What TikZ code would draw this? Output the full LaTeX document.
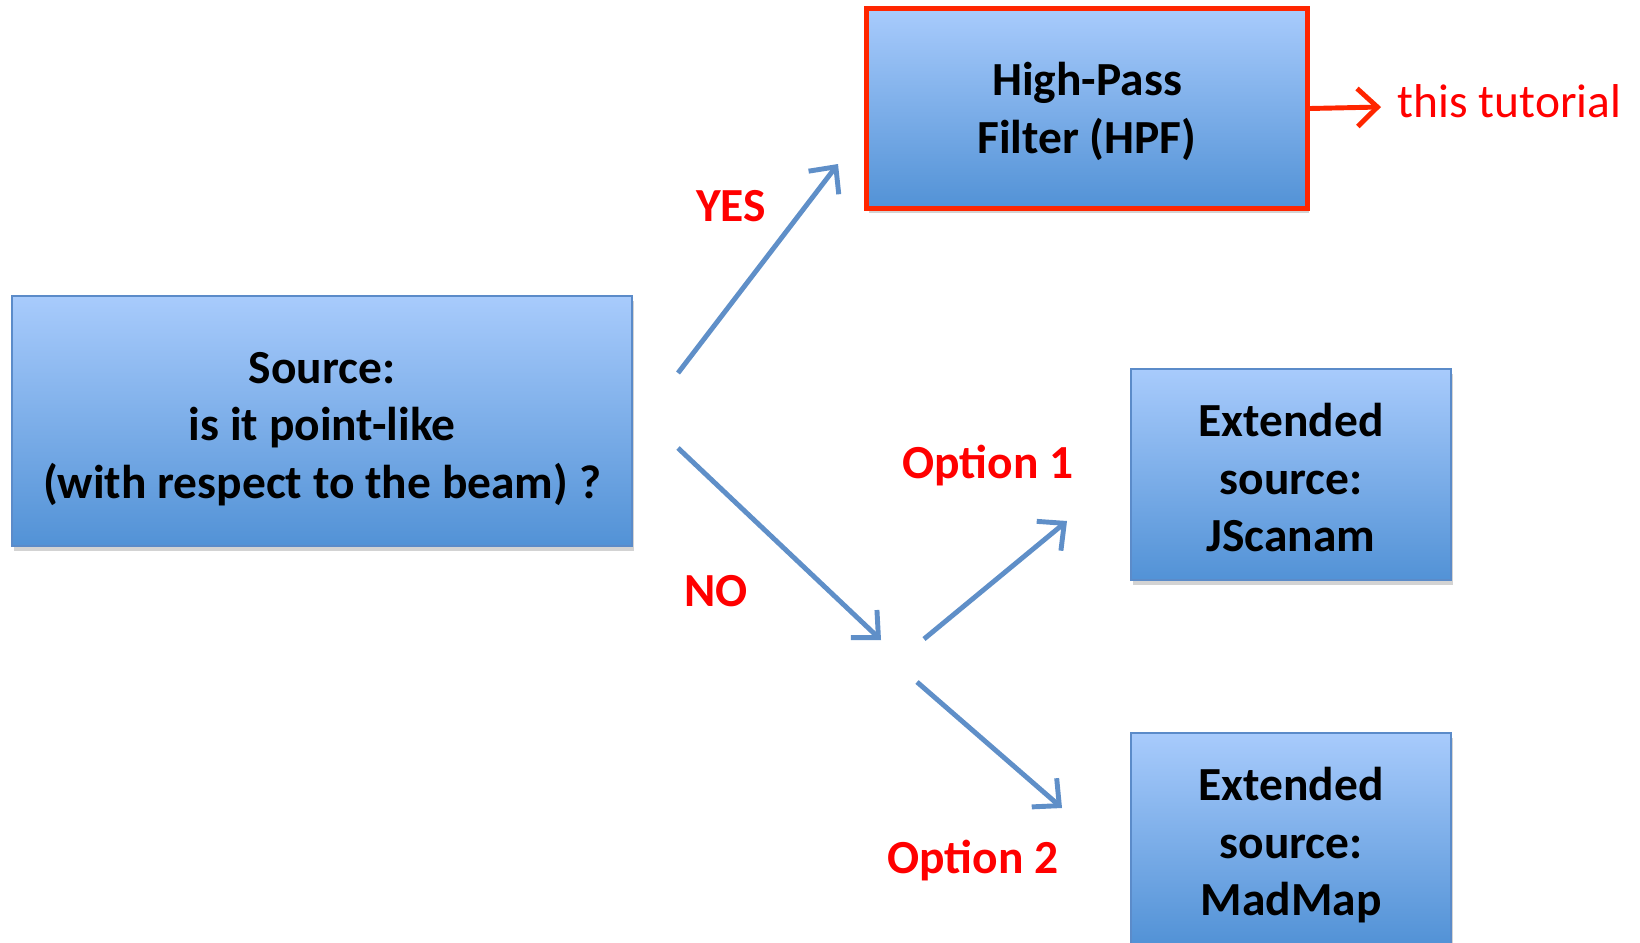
\documentclass[tikz,border=0pt]{standalone}
\usepackage{fontspec}
\setmainfont{Carlito}
\usetikzlibrary{positioning,arrows.meta,shadows}

\definecolor{boxtop}{RGB}{168,203,252}
\definecolor{boxbottom}{RGB}{82,146,214}
\definecolor{boxline}{RGB}{91,139,201}
\definecolor{arrowblue}{RGB}{95,143,200}
\definecolor{hpfred}{RGB}{255,38,0}

\begin{document}
\begin{tikzpicture}[
    x=0.01cm, y=-0.01cm,
    box/.style={
        draw=boxline,
        line width=0.6pt,
        top color=boxtop,
        bottom color=boxbottom,
        drop shadow={shadow xshift=0.02cm, shadow yshift=-0.05cm, opacity=0.35},
        align=center,
        inner sep=0pt,
        text height=44pt,
        text depth=0pt,
        font=\fontsize{13.5}{16.4}\selectfont\bfseries
    },
    arrow/.style={
        -{Straight Barb[length=0.2cm, width=0.38cm]},
        line width=1.4pt,
        draw=arrowblue
    },
    answer/.style={
        text=red,
        inner sep=0pt,
        font=\fontsize{13.5}{16.4}\selectfont\bfseries
    }
]
\useasboundingbox (0,0) rectangle (1640,942);

% Nodes
\node (source)  [box, minimum width=6.2cm, minimum height=2.5cm] at (322,421) {Source:\\ is it point-like\\ (with respect to the beam) ?};
\node (hpf)     [box, draw=hpfred, line width=1.4pt, text height=25.5pt, minimum width=4.4cm, minimum height=1.99cm] at (1087,108.5) {High-Pass\\ Filter (HPF)};
\node (jscanam) [box, minimum width=3.2cm, minimum height=2.11cm] at (1291,474.5) {Extended\\ source:\\ JScanam};
\node (madmap)  [box, minimum width=3.2cm, minimum height=2.11cm] at (1291,838.5) {Extended\\ source:\\ MadMap};

\coordinate (tip) at (1381,107);
\node (tutorial) [answer, font=\fontsize{13.5}{16.4}\selectfont, anchor=west] at (1397,101) {this tutorial};

% Labels
\node (yes)  [answer] at (731,206) {YES};
\node (no)   [answer] at (716,591) {NO};
\node (opt1) [answer] at (988,466) {Option 1};
\node (opt2) [answer] at (973,861) {Option 2};

% Arrow ends
\coordinate (yesfrom)  at (678,373);
\coordinate (yesto)    at (838,164);
\coordinate (nofrom)   at (678,448);
\coordinate (noto)     at (881,640);
\coordinate (opt1from) at (924,639);
\coordinate (opt1to)   at (1067,521);
\coordinate (opt2from) at (917,682);
\coordinate (opt2to)   at (1062,808);

% Arrows
\draw[arrow] (yesfrom) -- (yesto);
\draw[arrow] (nofrom) -- (noto);
\draw[arrow] (opt1from) -- (opt1to);
\draw[arrow] (opt2from) -- (opt2to);
\draw[arrow, draw=hpfred] (hpf.east) -- (tip);

\end{tikzpicture}
\end{document}
